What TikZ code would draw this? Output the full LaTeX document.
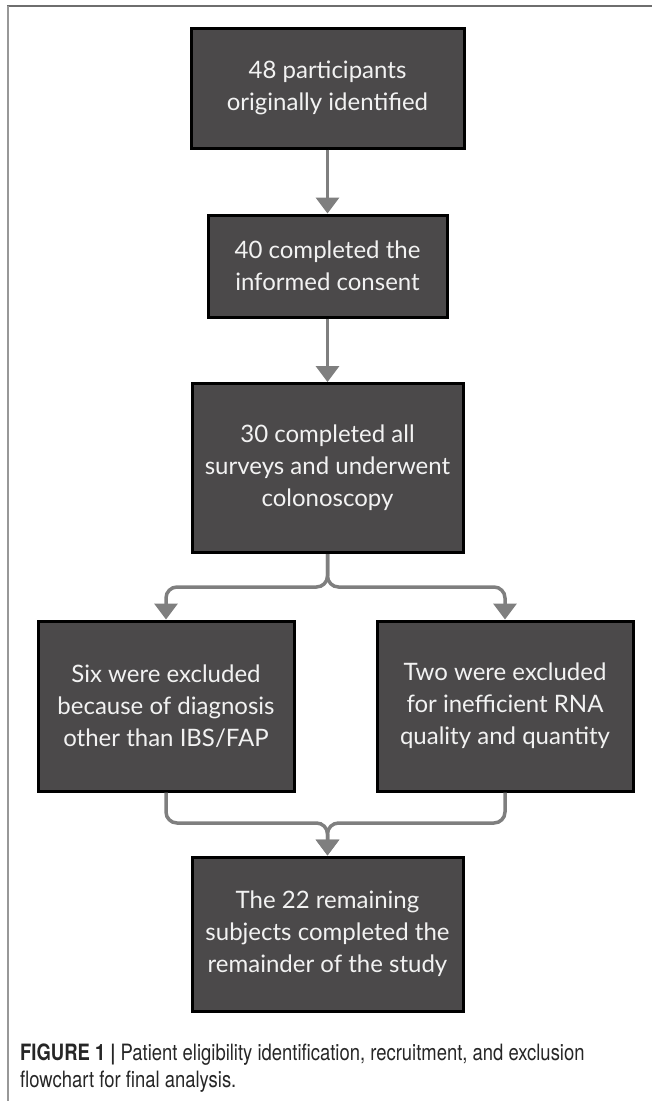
\documentclass[tikz,border=0pt]{standalone}
\usepackage{fontspec}
\setmainfont{Lato}
\newfontfamily\capfont[FakeStretch=0.82]{TeX Gyre Heros}
\usepackage{xcolor}
\usetikzlibrary{arrows.meta,positioning,calc}

\definecolor{boxfill}{HTML}{4B494A}
\definecolor{boxtext}{HTML}{F2F2F2}
\definecolor{flowgray}{HTML}{7F7F7F}
\definecolor{framegray}{HTML}{6E6E6E}

\begin{document}
\begin{tikzpicture}[x=1pt,y=-1pt,
  stage/.style={draw=black, line width=3pt, fill=boxfill, text=boxtext,
    align=center, inner sep=0pt, font=\fontsize{24}{32}\selectfont},
  flow/.style={draw=flowgray, line width=3.5pt,
    -{Triangle[length=16pt,width=23pt]}, rounded corners=11pt},
  caption/.style={align=left, inner sep=0pt, text=black!85,
    font=\capfont\fontsize{22.5}{26.5}\selectfont}]
\useasboundingbox (0,0) rectangle (652,1101);

% frame
\draw[framegray, line width=1.5pt] (7,6) -- (652,6);
\draw[flowgray!80, line width=2pt] (7.5,6) -- (7.5,1101);

% boxes
\node[stage, minimum width=273, minimum height=120] (found) at (327.5,88)
  {48 participants\\originally identified};
\node[stage, minimum width=239, minimum height=102] (consent) at (327.5,266)
  {40 completed the\\informed consent};
\node[stage, minimum width=271, minimum height=169] (surveys) at (327.5,468)
  {30 completed all\\surveys and underwent\\colonoscopy};
\node[stage, minimum width=256, minimum height=170] (diagnosis) at (166,706)
  {Six were excluded\\because of diagnosis\\other than IBS/FAP};
\node[stage, minimum width=256, minimum height=170] (rna) at (505,706)
  {Two were excluded\\for inefficient RNA\\quality and quantity};
\node[stage, minimum width=271, minimum height=154] (remaining) at (327.5,934)
  {The 22 remaining\\subjects completed the\\remainder of the study};

\coordinate (split) at (327.5,587);
\coordinate (merge) at (327.5,823);

% arrows
\draw[flow] (found) -- (consent);
\draw[flow] (consent) -- (surveys);
\draw[flow] (surveys.south) -- (split) -| (diagnosis.north);
\draw[flow] (surveys.south) -- (split) -| (rna.north);
\draw[flow] (diagnosis.south) |- (merge) -- (remaining.north);
\draw[flow] (rna.south) |- (merge) -- (remaining.north);

% caption
\node[caption, anchor=north west] (cap) at (20,1044)
  {\textbf{FIGURE 1 |} Patient eligibility identification, recruitment, and exclusion\\
   flowchart for final analysis.};
\end{tikzpicture}
\end{document}
